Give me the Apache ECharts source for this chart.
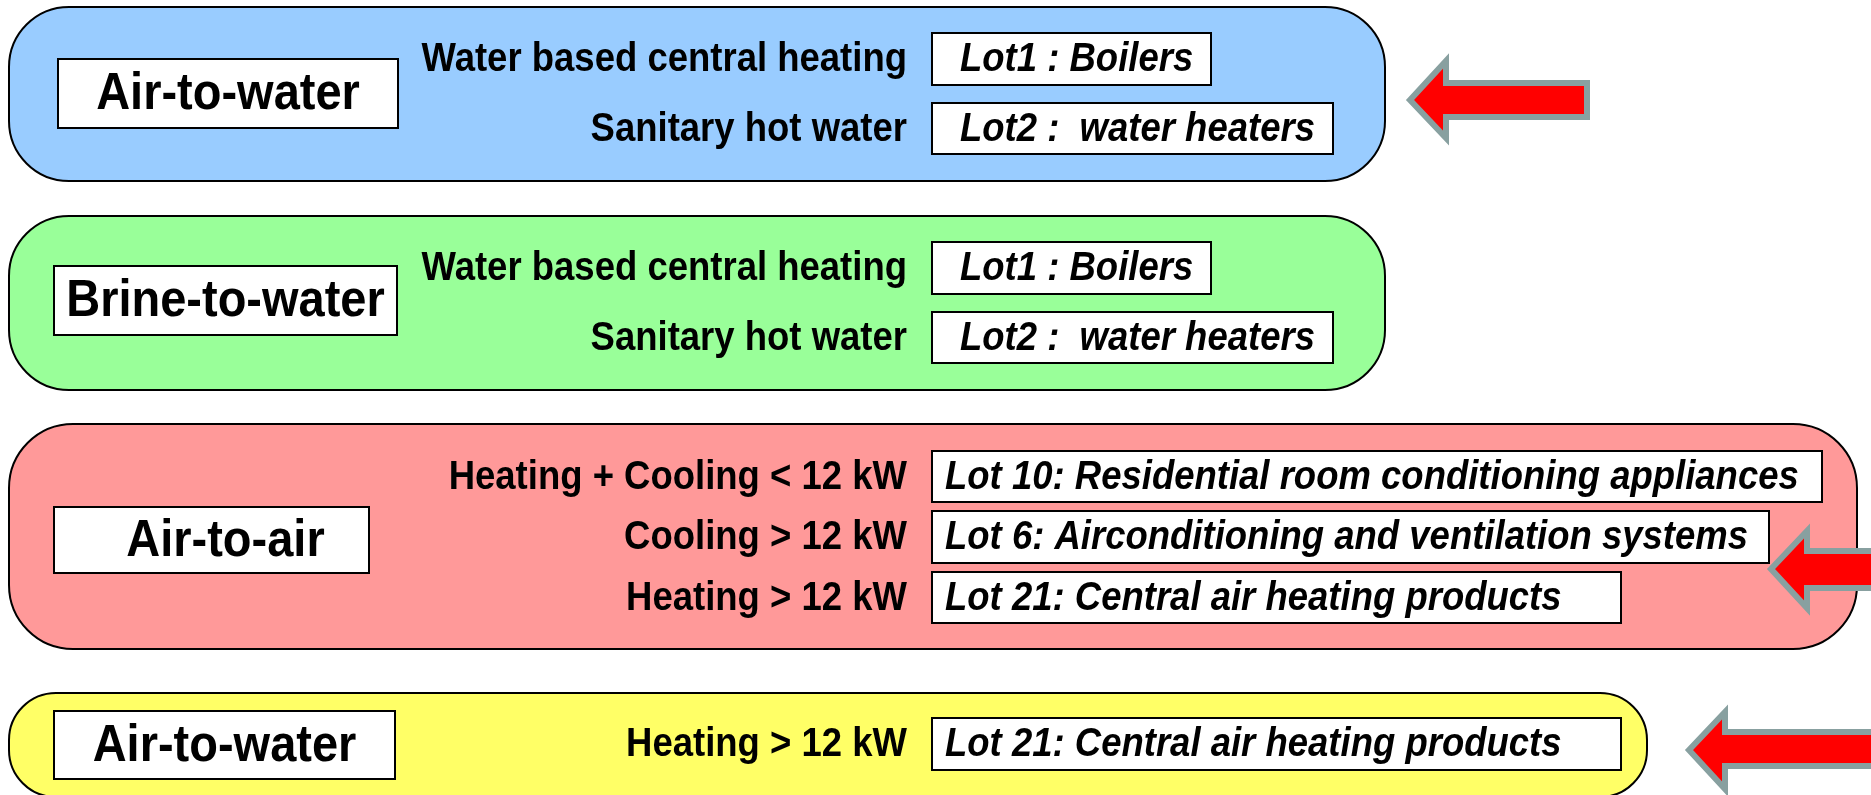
<!DOCTYPE html>
<html><head><meta charset="utf-8">
<script src="https://cdn.jsdelivr.net/npm/echarts@6/dist/echarts.min.js"></script>
<style>html,body{margin:0;padding:0;background:#fff}#c{width:1871px;height:795px}</style>
</head><body><div id="c"></div>
<script>
// ---- content ----
const heatPumpTypes = ['Air-to-water', 'Brine-to-water', 'Air-to-air', 'Air-to-water'];
const applications = [
  ['Water based central heating', 'Sanitary hot water'],
  ['Water based central heating', 'Sanitary hot water'],
  ['Heating + Cooling < 12 kW', 'Cooling > 12 kW', 'Heating > 12 kW'],
  ['Heating > 12 kW']
];
const lots = [
  ['Lot1 : Boilers', 'Lot2 :  water heaters'],
  ['Lot1 : Boilers', 'Lot2 :  water heaters'],
  ['Lot 10: Residential room conditioning appliances', 'Lot 6: Airconditioning and ventilation systems', 'Lot 21: Central air heating products'],
  ['Lot 21: Central air heating products']
];
const highlighted = [true, false, true, true];

// ---- layout (axis space, 1 unit = 1 px) ----
const panelBox = [[9, 7, 1385, 181], [9, 216, 1385, 390], [9, 424, 1857, 649], [9, 693, 1647, 797]];
const panelRadius = [60, 60, 64, 47];
const panelFill = ['#99CCFF', '#99FF99', '#FF9999', '#FFFF66'];
const typeBox = [[58, 59, 398, 128], [54, 266, 397, 335], [54, 507, 369, 573], [54, 711, 395, 779]];
const typeTextShift = [0, 0, 14, 0];
const lotBoxes = [
  [[932, 33, 1211, 85], [932, 103, 1333, 154]],
  [[932, 242, 1211, 294], [932, 312, 1333, 363]],
  [[932, 451, 1822, 502], [932, 511, 1769, 563], [932, 572, 1621, 623]],
  [[932, 718, 1621, 770]]
];
const lotPad = [28, 28, 13, 13];
const labelRight = 907;
// tipX, tipY, headBackX, headTop, headBottom, shaftTop, shaftBottom, endX
const arrowGeom = [[1406, 100, 1449, 57, 142, 80, 120, 1590], null,
  [1767, 569, 1810, 527, 612, 548, 591, 1890], [1685, 750, 1728, 708, 793, 729, 769, 1890]];

const FONT = '"Liberation Sans", Arial, Helvetica, sans-serif';
const TEXT_SY = 1.12;

function renderItem(params, api) {
  const i = api.value(0);
  const P = (x, y) => api.coord([x, y]);
  const children = [];
  const pb = panelBox[i];
  const p0 = P(pb[0], pb[1]), p1 = P(pb[2], pb[3]);
  children.push({type: 'rect', shape: {x: p0[0], y: p0[1], width: p1[0] - p0[0], height: p1[1] - p0[1], r: panelRadius[i]},
    style: {fill: panelFill[i], stroke: '#000', lineWidth: 2}});
  const tb = typeBox[i];
  const t0 = P(tb[0], tb[1]), t1 = P(tb[2], tb[3]);
  children.push({type: 'rect', shape: {x: t0[0], y: t0[1], width: t1[0] - t0[0], height: t1[1] - t0[1]},
    style: {fill: '#fff', stroke: '#000', lineWidth: 2}});
  children.push({type: 'text', x: (t0[0] + t1[0]) / 2 + typeTextShift[i], y: (t0[1] + t1[1]) / 2 + 1, scaleY: TEXT_SY,
    style: {text: heatPumpTypes[i], font: 'bold 47px ' + FONT, fill: '#000', textAlign: 'center', textVerticalAlign: 'middle'}});
  lots[i].forEach((lot, j) => {
    const b = lotBoxes[i][j];
    const b0 = P(b[0], b[1]), b1 = P(b[2], b[3]);
    children.push({type: 'rect', shape: {x: b0[0], y: b0[1], width: b1[0] - b0[0], height: b1[1] - b0[1]},
      style: {fill: '#fff', stroke: '#000', lineWidth: 2}});
    const cy = (b0[1] + b1[1]) / 2 + 1;
    children.push({type: 'text', x: b0[0] + lotPad[i], y: cy, scaleY: TEXT_SY,
      style: {text: lot, font: 'italic bold 36.5px ' + FONT, fill: '#000', textAlign: 'left', textVerticalAlign: 'middle'}});
    const lr = P(labelRight, 0);
    children.push({type: 'text', x: lr[0], y: cy, scaleY: TEXT_SY,
      style: {text: applications[i][j], font: 'bold 36.5px ' + FONT, fill: '#000', textAlign: 'right', textVerticalAlign: 'middle'}});
  });
  if (highlighted[i]) {
    const a = arrowGeom[i];
    const s = 3;
    const pts = [
      [a[0] + s + 1, a[1]], [a[2] - s, a[3] + s + 1], [a[2] - s, a[5] + s], [a[7] - s, a[5] + s],
      [a[7] - s, a[6] - s], [a[2] - s, a[6] - s], [a[2] - s, a[4] - s - 1]
    ].map(q => P(q[0], q[1]));
    children.push({type: 'polygon', shape: {points: pts},
      style: {fill: '#FF0000', stroke: '#88A0A0', lineWidth: 6, lineJoin: 'miter'}});
  }
  return {type: 'group', children: children};
}

const chart = echarts.init(document.getElementById('c'), null, {renderer: 'canvas'});
chart.setOption({
  animation: false,
  backgroundColor: '#ffffff',
  grid: {left: 0, right: 0, top: 0, bottom: 0},
  xAxis: {type: 'value', min: 0, max: 1871, show: false},
  yAxis: {type: 'value', min: 0, max: 795, inverse: true, show: false},
  series: [{
    type: 'custom',
    clip: false,
    silent: true,
    renderItem: renderItem,
    data: heatPumpTypes.map((t, i) => [i])
  }]
});
</script>
</body></html>
